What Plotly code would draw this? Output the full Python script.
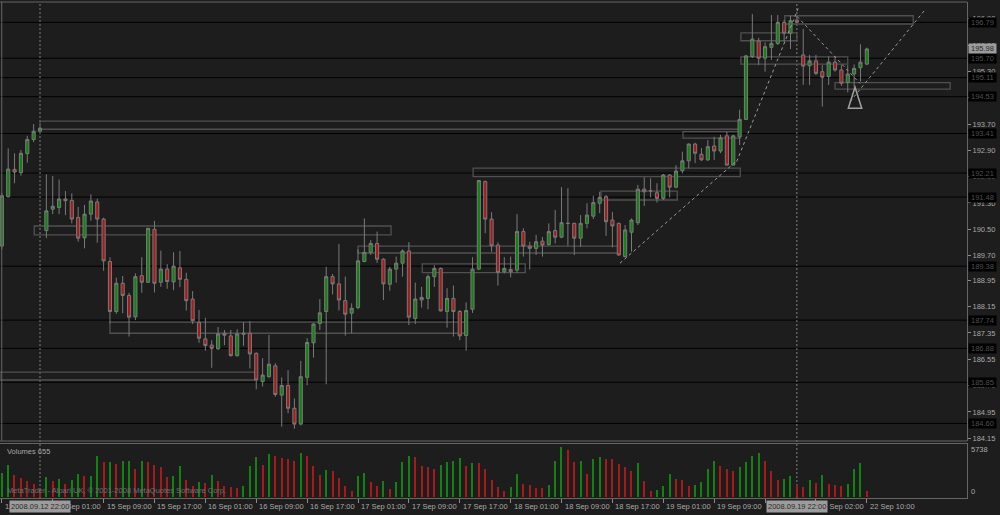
import plotly.graph_objects as go

# ---------------- data ----------------
bar_index = list(range(137))

open_ = [189.99, 191.49, 192.32, 192.22, 192.80, 193.23, 193.48, 190.46, 191.11, 191.16,
         191.42, 191.38, 190.86, 190.24, 190.96, 191.33, 190.81, 189.52, 188.00, 188.86,
         188.49, 187.84, 189.09, 188.89, 190.50, 188.89, 189.29, 188.90, 189.33, 188.98,
         188.38, 187.67, 187.17, 186.98, 186.87, 187.34, 187.26, 186.66, 187.34, 187.34,
         186.73, 185.87, 186.02, 186.35, 185.46, 185.75, 185.06, 184.58, 186.00, 187.05,
         187.64, 188.00, 189.06, 188.84, 188.33, 187.95, 188.12, 189.52, 189.80, 190.07,
         189.59, 188.83, 189.29, 189.47, 189.84, 187.79, 188.35, 188.40, 189.06, 189.31,
         188.00, 188.40, 188.00, 187.27, 188.07, 189.29, 191.95, 190.81, 190.02, 189.21,
         189.28, 189.26, 190.43, 189.99, 189.92, 190.14, 190.04, 190.46, 190.26, 190.68,
         190.68, 190.23, 190.68, 190.90, 191.29, 191.49, 190.78, 190.68, 189.67, 190.41,
         190.70, 191.72, 191.67, 191.61, 191.44, 192.15, 191.78, 192.28, 192.58, 193.09,
         192.78, 192.61, 193.03, 192.88, 193.34, 192.45, 193.31, 193.84, 195.75, 196.22,
         195.70, 196.03, 196.15, 196.79, 196.46, 196.86, 195.80, 195.47, 195.62, 195.29,
         195.14, 195.58, 195.34, 194.96, 195.22, 195.41, 195.52]
high = [191.61, 192.96, 192.81, 192.91, 193.34, 193.70, 193.61, 192.17, 192.12, 192.01,
        191.66, 191.59, 191.18, 191.24, 191.56, 191.43, 190.85, 189.65, 189.03, 189.08,
        188.57, 189.16, 189.65, 190.54, 190.75, 189.85, 189.44, 189.80, 189.84, 189.18,
        188.62, 188.05, 187.81, 187.13, 187.53, 187.44, 187.44, 187.46, 187.68, 187.71,
        186.76, 186.58, 187.29, 186.43, 186.00, 186.22, 185.36, 186.50, 187.19, 187.64,
        188.38, 189.36, 189.14, 190.05, 189.06, 188.25, 189.89, 190.83, 190.17, 190.43,
        189.62, 189.36, 189.67, 189.89, 190.11, 188.88, 188.75, 189.13, 189.41, 189.34,
        188.71, 188.79, 188.05, 188.28, 189.65, 192.00, 191.98, 191.02, 190.10, 189.65,
        189.67, 190.96, 190.53, 190.12, 190.33, 190.27, 190.68, 191.09, 191.78, 191.75,
        190.70, 190.93, 191.29, 191.52, 191.64, 191.54, 191.03, 190.70, 190.63, 190.83,
        191.85, 192.08, 192.05, 191.90, 192.18, 192.18, 192.45, 192.86, 193.11, 193.13,
        192.97, 193.21, 193.31, 193.37, 193.47, 193.37, 194.13, 195.80, 197.04, 196.32,
        196.18, 197.01, 197.01, 196.86, 196.99, 196.93, 196.59, 195.80, 195.80, 195.49,
        195.75, 195.75, 195.49, 195.49, 195.51, 196.12, 196.02]
low = [189.89, 191.47, 191.90, 192.13, 192.52, 193.15, 193.46, 190.23, 190.96, 190.96,
       190.93, 190.68, 190.12, 189.92, 190.76, 190.09, 189.24, 187.64, 187.93, 187.95,
       187.24, 187.74, 188.57, 188.87, 188.58, 188.75, 188.69, 188.65, 188.74, 188.03,
       187.62, 187.05, 186.81, 186.29, 186.83, 186.98, 186.63, 186.63, 186.96, 186.27,
       185.64, 185.72, 185.99, 185.41, 184.50, 184.91, 184.44, 184.54, 185.76, 186.60,
       187.44, 185.79, 188.52, 188.03, 187.27, 187.34, 188.07, 189.50, 189.72, 189.48,
       188.35, 188.63, 188.88, 189.06, 187.59, 187.62, 188.12, 188.07, 188.75, 188.00,
       187.51, 187.24, 187.13, 186.81, 187.96, 189.26, 190.38, 189.82, 188.79, 189.16,
       189.04, 189.18, 189.67, 189.28, 189.72, 189.67, 190.00, 190.07, 190.23, 190.00,
       189.72, 189.97, 190.53, 190.81, 190.99, 190.30, 189.95, 189.69, 189.65, 189.82,
       190.63, 191.21, 191.47, 191.31, 191.39, 191.47, 191.75, 192.20, 192.35, 192.51,
       192.58, 192.58, 192.61, 192.81, 192.45, 192.45, 193.06, 193.82, 195.70, 195.49,
       195.29, 195.65, 196.10, 196.20, 195.98, 196.76, 194.89, 194.89, 195.19, 194.23,
       194.89, 195.29, 194.86, 194.66, 194.83, 194.99, 195.49]
close = [191.52, 192.33, 192.24, 192.81, 193.23, 193.48, 193.57, 191.06, 191.20, 191.42,
         191.37, 190.81, 190.23, 190.96, 191.36, 190.81, 189.54, 188.00, 188.86, 188.49,
         187.83, 189.06, 188.89, 190.53, 188.86, 189.29, 188.91, 189.38, 188.98, 188.33,
         187.72, 187.19, 186.97, 186.88, 187.32, 187.28, 186.66, 187.32, 187.31, 186.71,
         185.92, 186.07, 186.40, 185.48, 185.75, 185.06, 184.58, 186.02, 187.06, 187.62,
         187.96, 189.06, 188.84, 188.35, 187.92, 188.10, 189.54, 189.80, 190.07, 189.59,
         188.84, 189.29, 189.47, 189.84, 187.83, 188.38, 188.43, 189.06, 189.31, 188.02,
         188.40, 188.00, 187.26, 188.03, 189.29, 191.98, 190.81, 190.00, 189.19, 189.31,
         189.21, 190.43, 189.99, 189.92, 190.12, 190.02, 190.43, 190.26, 190.70, 190.68,
         190.23, 190.68, 190.93, 191.31, 191.47, 190.73, 190.60, 189.72, 190.48, 190.78,
         191.72, 191.64, 191.67, 191.44, 192.15, 191.78, 192.27, 192.58, 193.09, 192.81,
         192.61, 193.01, 192.88, 193.28, 192.45, 193.34, 193.84, 195.77, 196.28, 195.70,
         196.05, 196.15, 196.79, 196.46, 196.84, 196.79, 195.46, 195.62, 195.24, 195.12,
         195.58, 195.34, 194.94, 195.22, 195.39, 195.58, 195.98]
volume = [2766, 3715, 2572, 2195, 1806, 1509, 972, 2309, 1806, 2080,
          1543, 2000, 2652, 2377, 2457, 4743, 3978, 4058, 3795, 4080,
          4115, 3223, 4172, 3978, 3715, 3406, 2309, 2457, 3520, 2000,
          1234, 1737, 1623, 2572, 1886, 1234, 1200, 1086, 1257, 3520,
          4595, 3715, 4972, 4743, 4515, 4401, 4172, 5086, 4663, 3520,
          2492, 3143, 3029, 2195, 1314, 743, 2377, 2766, 1692, 1314,
          1806, 972, 1737, 3978, 4743, 4549, 3520, 3452, 3258, 3635,
          3978, 4092, 4481, 3600, 3909, 3852, 3258, 2000, 1120, 663,
          1120, 2652, 1543, 1429, 1052, 1006, 1429, 4172, 5738, 5429,
          4023, 4172, 2652, 4401, 4595, 4401, 4366, 3829, 3406, 3029,
          3909, 1806, 743, 800, 1234, 2686, 2115, 2000, 1314, 1429,
          1692, 3258, 4092, 3520, 3258, 3029, 3486, 4058, 4743, 5052,
          4092, 3029, 2000, 2057, 2457, 1429, 1120, 1920, 1623, 2492,
          1509, 1349, 1234, 1509, 3223, 3909, 655]

price_tick_values = [196.90, 196.10, 195.30, 194.50, 193.70, 192.90, 192.10, 191.30, 190.50,
                     189.70, 188.95, 188.15, 187.35, 186.55, 185.75, 184.95, 184.15]
level_prices = [196.79, 195.70, 195.11, 194.53, 193.41, 192.21, 191.48, 189.38,
                187.74, 186.88, 185.85, 184.60]
current_price = 195.98

time_tick_index = [0, 8, 16, 24, 32, 40, 48, 56, 64, 72, 80, 88, 96, 104, 112, 120, 128, 136]
time_tick_labels = ["12 Sep 16:00", "15 Sep 01:00", "15 Sep 09:00", "15 Sep 17:00",
                    "16 Sep 01:00", "16 Sep 09:00", "16 Sep 17:00", "17 Sep 01:00",
                    "17 Sep 09:00", "17 Sep 17:00", "18 Sep 01:00", "18 Sep 09:00",
                    "18 Sep 17:00", "19 Sep 01:00", "19 Sep 09:00", "19 Sep 17:00",
                    "22 Sep 02:00", "22 Sep 10:00"]
marked_bar_index = [6, 125]
marked_bar_labels = ["2008.09.12 22:00", "2008.09.19 22:00"]

box_x0 = [123.1, 116.2, 116.2, 131.0, 6.0, 107.1, 74.1, 5.1, 56.0, 66.1, 17.0, -0.3, 94.2]
box_x1 = [143.3, 125.0, 133.0, 149.1, 116.1, 116.1, 116.1, 61.2, 97.2, 82.3, 72.8, 39.8, 106.2]
box_lo = [196.74, 196.23, 195.52, 194.76, 193.54, 193.27, 192.10, 190.33, 189.78, 189.18,
          187.34, 185.92, 191.39]
box_hi = [196.99, 196.47, 195.74, 194.96, 193.79, 193.47, 192.36, 190.60, 189.99, 189.45,
          187.68, 186.16, 191.66]

trend_x0 = [97.19, 115.54, 125.03, 133.36]
trend_y0 = [189.47, 192.56, 196.97, 194.38]
trend_x1 = [115.59, 125.20, 134.93, 145.15]
trend_y1 = [192.59, 197.21, 194.93, 197.17]

triangle_x = [134.14, 133.09, 135.20]
triangle_y = [194.82, 194.18, 194.18]

# ---------------- styles ----------------
BG = "#1d1d1d"
GREEN = "#128212"
RED = "#a81a1a"
WICK = "#7a7a7a"
FRAME = "#666666"
TXT = "#a8a8a8"
FONT = "Liberation Sans"
FS = 7.5

vol_colors = [GREEN if (i == 0 or volume[i] > volume[i - 1]) else RED for i in range(len(volume))]

fig = go.Figure()
fig.add_trace(go.Candlestick(
    x=bar_index, open=open_, high=high, low=low, close=close,
    xaxis="x", yaxis="y",
    increasing=dict(fillcolor=GREEN, line=dict(color=WICK, width=1)),
    decreasing=dict(fillcolor=RED, line=dict(color=WICK, width=1)),
    whiskerwidth=0, hoverinfo="skip", showlegend=False))
fig.add_trace(go.Bar(
    x=bar_index, y=volume, xaxis="x", yaxis="y2", width=0.18,
    marker=dict(color=vol_colors, line=dict(width=0)),
    hoverinfo="skip", showlegend=False))

shapes = []
for lv in level_prices:
    shapes.append(dict(type="line", xref="paper", yref="y", x0=0, x1=1, y0=lv, y1=lv,
                       line=dict(color="#000000", width=1), layer="below"))
for a, b, lo, hi in zip(box_x0, box_x1, box_lo, box_hi):
    shapes.append(dict(type="rect", xref="x", yref="y", x0=a, x1=b, y0=lo, y1=hi,
                       line=dict(color="#505050", width=1.3), fillcolor="rgba(0,0,0,0)",
                       layer="below"))
for a, b, c, d in zip(trend_x0, trend_y0, trend_x1, trend_y1):
    shapes.append(dict(type="line", xref="x", yref="y", x0=a, y0=b, x1=c, y1=d,
                       line=dict(color="#9a9a9a", width=1, dash="3px,3px")))
tri_path = "M {} {} L {} {} L {} {} Z".format(triangle_x[0], triangle_y[0], triangle_x[1],
                                              triangle_y[1], triangle_x[2], triangle_y[2])
shapes.append(dict(type="path", xref="x", yref="y", path=tri_path,
                   line=dict(color="#a0a0a0", width=1.5)))
for m in marked_bar_index:
    shapes.append(dict(type="line", xref="x", yref="paper", x0=m, x1=m, y0=0, y1=1,
                       line=dict(color="#808080", width=1, dash="2px,2px"), layer="below"))
MAIN_BOTTOM = 0.1149
VOL_TOP = 0.1099
for yy in [1.0, MAIN_BOTTOM, VOL_TOP]:
    shapes.append(dict(type="line", xref="paper", yref="paper", x0=0, x1=1, y0=yy, y1=yy,
                       line=dict(color=FRAME, width=1)))
shapes.append(dict(type="line", xref="paper", yref="paper", x0=0.0018, x1=0.0018, y0=MAIN_BOTTOM, y1=1,
                   line=dict(color=FRAME, width=1)))

annotations = []
for ti, tl in zip(time_tick_index, time_tick_labels):
    annotations.append(dict(x=ti, xref="x", y=0, yref="paper", text=tl, showarrow=False,
                            xanchor="left", yanchor="top", xshift=1, yshift=-2,
                            font=dict(family=FONT, size=FS, color=TXT)))
for mi, ml in zip(marked_bar_index, marked_bar_labels):
    annotations.append(dict(x=mi, xref="x", y=0, yref="paper", text=ml, showarrow=False,
                            xanchor="center", yanchor="top", yshift=-2, bgcolor="#9c9c9c",
                            borderpad=1, font=dict(family=FONT, size=FS, color="#2a2a2a")))
for lv in level_prices:
    annotations.append(dict(x=1, xref="paper", y=lv, yref="y", text="%.2f" % lv,
                            showarrow=False, xanchor="left", yanchor="middle", xshift=1,
                            bgcolor="#000000", width=27, height=9, borderpad=0,
                            font=dict(family=FONT, size=FS, color="#505050")))
annotations.append(dict(x=1, xref="paper", y=current_price, yref="y", text="%.2f" % current_price,
                        showarrow=False, xanchor="left", yanchor="middle", xshift=1,
                        bgcolor="#9c9c9c", width=27, height=9, borderpad=0,
                        font=dict(family=FONT, size=FS, color="#2a2a2a")))
annotations.append(dict(x=0.005, xref="paper", y=VOL_TOP, yref="paper",
                        text="Volumes %d" % volume[-1], showarrow=False, xanchor="left",
                        yanchor="top", yshift=-2, font=dict(family=FONT, size=FS, color=TXT)))
annotations.append(dict(x=0.005, xref="paper", y=0, yref="paper",
                        text="MetaTrader - Alpari UK, © 2001-2008 MetaQuotes Software Corp.",
                        showarrow=False, xanchor="left", yanchor="bottom", yshift=1,
                        font=dict(family=FONT, size=FS, color="#6e6e6e")))
annotations.append(dict(x=1, xref="paper", y=VOL_TOP, yref="paper", text=str(max(volume)),
                        showarrow=False, xanchor="left", yanchor="top", xshift=2,
                        font=dict(family=FONT, size=FS, color=TXT)))
annotations.append(dict(x=1, xref="paper", y=0, yref="paper", text="0",
                        showarrow=False, xanchor="left", yanchor="bottom", xshift=2,
                        font=dict(family=FONT, size=FS, color=TXT)))

fig.update_layout(
    width=1000, height=515,
    margin=dict(l=0, r=33, t=2, b=17, pad=0),
    paper_bgcolor=BG, plot_bgcolor=BG,
    showlegend=False, bargap=0,
    xaxis=dict(range=[-0.289, 151.75], anchor="y2", showgrid=False, zeroline=False,
               rangeslider=dict(visible=False), tickvals=time_tick_index,
               ticks="outside", ticklen=4, tickcolor="#8a8a8a", showticklabels=False,
               showline=True, linecolor=FRAME, linewidth=1),
    yaxis=dict(domain=[MAIN_BOTTOM, 1], range=[184.065, 197.408], side="right", anchor="x",
               tickvals=price_tick_values, ticktext=["%.2f" % v for v in price_tick_values],
               ticks="outside", ticklen=3, tickcolor="#8a8a8a",
               tickfont=dict(family=FONT, size=FS, color=TXT),
               showgrid=False, zeroline=False, showline=True, linecolor=FRAME, linewidth=1),
    yaxis2=dict(domain=[0, VOL_TOP], range=[-57, 6172], side="right", anchor="x",
                showticklabels=False, ticks="", showgrid=False, zeroline=False,
                showline=True, linecolor=FRAME, linewidth=1),
    shapes=shapes, annotations=annotations,
)

fig.write_html("out.html", config={"displayModeBar": False},
               post_script="document.body.style.margin='0px';document.body.style.background='%s';" % BG)
